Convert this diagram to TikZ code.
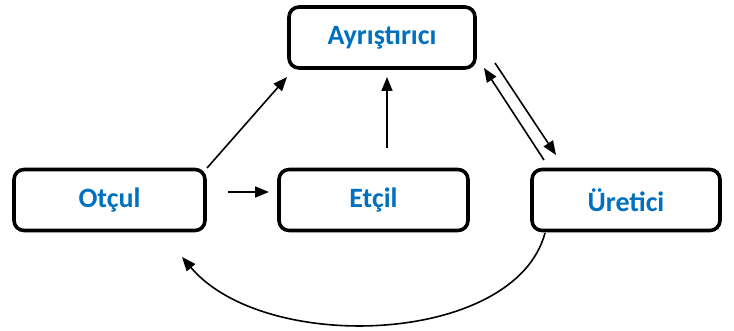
\documentclass[tikz,border=0pt]{standalone}
\usepackage{fontspec}
\setmainfont{Carlito}
\usetikzlibrary{arrows.meta,calc}
\definecolor{lblue}{HTML}{0070C0}
\begin{document}
\begin{tikzpicture}[x=1pt,y=-1pt,
  box/.style={draw=black, line width=3.6pt, rounded corners=10pt, fill=white,
    minimum height=61pt, inner sep=0pt, font=\fontsize{28}{32}\selectfont\bfseries, text=lblue},
  arr/.style={line width=1.6pt, -{Triangle[length=14pt,width=11pt]}}]
\useasboundingbox (0,0) rectangle (734,331);
\node[box, minimum width=186pt] (a) at (382,37.5) {Ayrıştırıcı};
\node[box, minimum width=191pt] (o) at (109.5,200) {Otçul};
\node[box, minimum width=189pt] (e) at (373.5,200) {Etçil};
\node[box, minimum width=188pt] (u) at (626,200) {Üretici};
\coordinate (oa1) at (207,168);
\coordinate (oa2) at (287,77);
\draw[arr] (oa1) -- (oa2);
\coordinate (oe1) at (228,192);
\coordinate (oe2) at (269,192);
\draw[arr] (oe1) -- (oe2);
\coordinate (ea1) at (387,148);
\coordinate (ea2) at (387,77);
\draw[arr] (ea1) -- (ea2);
\coordinate (ua1) at (544,160);
\coordinate (ua2) at (484,68);
\draw[arr] (ua1) -- (ua2);
\coordinate (au1) at (495,63);
\coordinate (au2) at (556,155);
\draw[arr] (au1) -- (au2);
\coordinate (uo1) at (545,233);
\coordinate (uo2) at (182,257);
\draw[arr] (uo1) .. controls (515,345) and (265,355) .. (uo2);
\end{tikzpicture}
\end{document}
